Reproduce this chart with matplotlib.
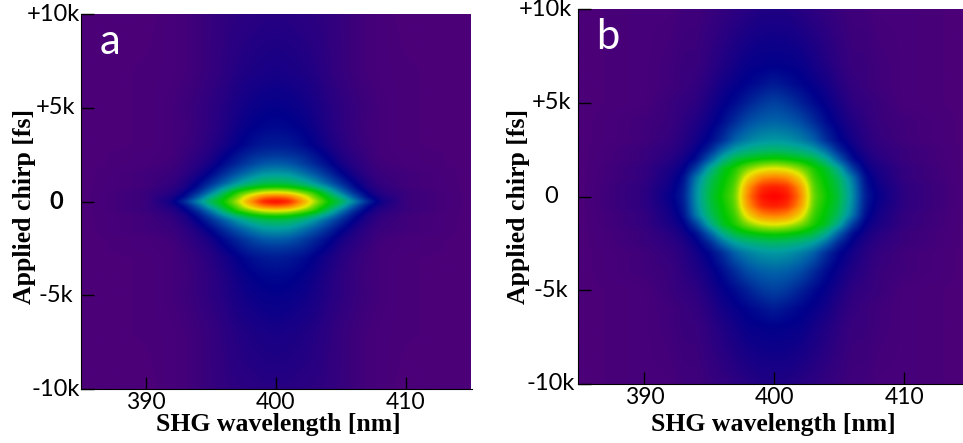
import numpy as np
import matplotlib
matplotlib.use("Agg")
import matplotlib.pyplot as plt
from matplotlib.colors import LinearSegmentedColormap

# distance from 400 nm (nm) and from zero chirp (k fs), values mirrored on both sides
dx = [0, 1, 2, 3, 4, 5, 6, 7, 8, 10, 15]

chirp_a = [0, 0.25, 0.5, 0.75, 1, 1.5, 2, 2.5, 3, 4, 5, 7, 10]
shg_a = [
    [1.00, .97, .84, .68, .57, .50, .37, .21, .10, .03, 0],
    [.90, .87, .76, .63, .54, .44, .28, .14, .08, .03, 0],
    [.72, .70, .64, .58, .48, .34, .20, .11, .06, .03, 0],
    [.58, .57, .54, .48, .38, .26, .15, .08, .05, .02, 0],
    [.50, .49, .45, .38, .29, .20, .12, .07, .04, .02, 0],
    [.39, .38, .33, .27, .20, .13, .08, .05, .03, .02, 0],
    [.29, .28, .24, .19, .14, .09, .06, .04, .02, .01, 0],
    [.22, .21, .19, .15, .11, .07, .05, .03, .015, .01, 0],
    [.17, .165, .145, .115, .085, .06, .04, .025, .015, .005, 0],
    [.135, .13, .115, .095, .07, .05, .035, .02, .015, .005, 0],
    [.115, .11, .10, .085, .065, .05, .035, .025, .015, .005, 0],
    [.085, .08, .075, .065, .05, .035, .025, .015, .01, .005, 0],
    [.06, .06, .055, .05, .045, .035, .025, .015, .01, 0, 0],
]

chirp_b = [0, 0.5, 1, 1.5, 2, 2.5, 3, 4, 5, 6, 7, 10]
shg_b = [
    [1.00, .98, .87, .63, .57, .51, .38, .17, .11, .05, 0],
    [.97, .95, .84, .62, .56, .50, .37, .16, .10, .05, 0],
    [.87, .85, .75, .60, .55, .48, .34, .14, .09, .04, 0],
    [.72, .70, .65, .58, .53, .42, .23, .11, .08, .04, 0],
    [.57, .56, .54, .51, .43, .28, .14, .09, .06, .03, 0],
    [.47, .46, .44, .40, .31, .18, .11, .07, .05, .03, 0],
    [.39, .38, .35, .30, .20, .13, .09, .06, .04, .02, 0],
    [.30, .29, .26, .20, .14, .10, .07, .05, .03, .02, 0],
    [.24, .22, .18, .14, .11, .08, .05, .04, .03, .01, 0],
    [.17, .15, .13, .11, .09, .06, .04, .03, .02, .01, 0],
    [.12, .115, .11, .09, .07, .05, .03, .03, .02, .01, 0],
    [.07, .07, .06, .05, .04, .03, .02, .02, .01, .01, 0],
]

ytick_vals = [-10, -5, 0, 5, 10]
ytick_labels = ["-10k", "-5k", "0", "+5k", "+10k"]
xtick_vals = [390, 400, 410]

W, H = 963, 443
cmap = LinearSegmentedColormap.from_list("shg", [
    (0.00, "#4b0078"), (0.12, "#00008c"), (0.28, "#0058a8"), (0.40, "#00a0a0"),
    (0.48, "#00b860"), (0.56, "#00c800"), (0.64, "#70d800"), (0.72, "#e8e800"),
    (0.85, "#ff8c00"), (1.00, "#ff0000")])


def blur(v, n):
    ker = np.ones(n) / n
    return np.convolve(np.pad(v, n, mode="edge"), ker, mode="same")[n:-n]


def fine_map(chirp, shg):
    # mirror the table then resample on a regular grid so imshow can smooth it
    shg = np.array(shg)
    xs = np.r_[-np.array(dx[:0:-1]), dx]
    ys = np.r_[-np.array(chirp[:0:-1]), chirp]
    full = np.hstack([shg[:, :0:-1], shg])
    full = np.vstack([full[:0:-1], full])
    xf = np.arange(-15, 15.01, 0.05)
    yf = np.arange(-10, 10.01, 0.025)
    rows = np.array([np.interp(xf, xs, r) for r in full])
    img = np.array([np.interp(yf, ys, c) for c in rows.T]).T
    for _ in range(2):
        img = np.apply_along_axis(blur, 1, img, 11)
    img = np.apply_along_axis(blur, 0, img, 7)
    return img


def panel(box, chirp, shg, xlim, letter, ylab_x, xlab_cx, tick_off, zero_bold):
    l, t, r, b = box
    ax = fig.add_axes([l / W, 1 - b / H, (r - l) / W, (b - t) / H])
    ax.imshow(fine_map(chirp, shg), extent=[385, 415, -10, 10], origin="lower", aspect="auto",
              cmap=cmap, vmin=0, vmax=1, interpolation="bilinear")
    ax.set_xlim(xlim)
    ax.set_ylim(-10, 10)
    ax.set_xticks(xtick_vals)
    ax.set_yticks(ytick_vals)
    ax.set_yticklabels([])
    ax.tick_params(direction="in", length=9, width=1, labelsize=16.5, pad=2)
    for lab in ax.get_xticklabels():
        lab.set_family("Lato")
    for val, txt, off in zip(ytick_vals, ytick_labels, tick_off):
        ax.annotate(txt, (0, val), xycoords=ax.get_yaxis_transform(), xytext=(-off, 0),
                    textcoords="offset pixels", ha="right", va="center", fontsize=17, family="Lato",
                    fontweight="bold" if zero_bold and val == 0 else "normal", annotation_clip=False)
    for s in ["top", "right"]:
        ax.spines[s].set_visible(False)
    ax.text(0.047, 0.925, letter, transform=ax.transAxes, color="white", fontsize=30,
            family="Lato", ha="left", va="center")
    fig.text(ylab_x / W, 1 - 206 / H, "Applied chirp [fs]", rotation=90, family="Liberation Serif",
             fontweight="bold", fontsize=18.5, ha="center", va="center")
    fig.text(xlab_cx / W, 1 - 425 / H, "SHG wavelength [nm]", family="Liberation Serif",
             fontweight="bold", fontsize=18.5, ha="center", va="center")


fig = plt.figure(figsize=(W / 100, H / 100), dpi=100)
panel((81, 14, 472, 389), chirp_a, shg_a, (385, 415.08), "a", 24, 278, [1, 8, 18, 6, 1], True)
panel((578, 9, 963, 384), chirp_b, shg_b, (384.9, 414.5), "b", 519, 773, [3, 10, 20, 7, 6], False)
fig.savefig("out.png", dpi=100)
